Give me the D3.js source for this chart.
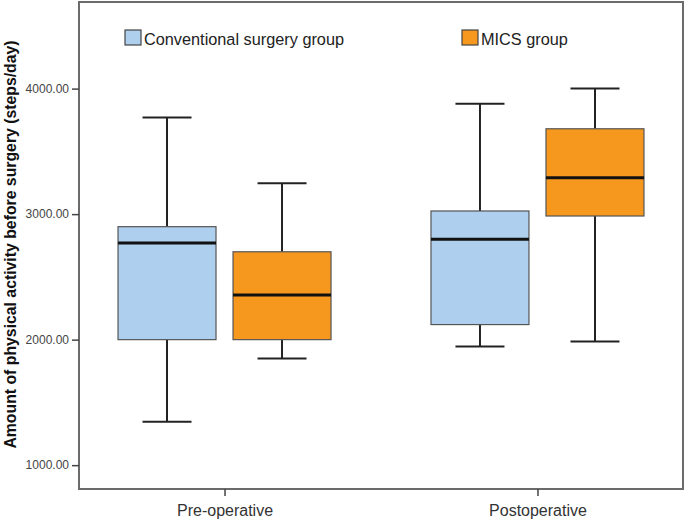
<!DOCTYPE html>
<html>
<head>
<meta charset="utf-8">
<script src="https://cdn.jsdelivr.net/npm/d3@7"></script>
<style>
  body { margin: 0; background: #fff; }
  svg { display: block; font-family: "Liberation Sans", Arial, sans-serif; }
</style>
</head>
<body>
<div id="chart"></div>
<script>
// Data (steps/day).
const categories = ["Pre-operative", "Postoperative"];
const groups = ["Conventional surgery group", "MICS group"];
const groupColors = ["#aed0ee", "#f7981e"];
// [min, q1, median, q3, max] per category, per group
const conventional = [[1345, 2000, 2770, 2900, 3770], [1945, 2120, 2800, 3025, 3880]];
const mics = [[1850, 2000, 2355, 2700, 3245], [1985, 2985, 3290, 3680, 4000]];
const yTicks = [1000, 2000, 3000, 4000];

const width = 685;
const height = 520;
const margin = {top: 2, right: 2, bottom: 31, left: 79};

const svg = d3.select("#chart")
    .append("svg")
    .attr("width", width)
    .attr("height", height);

// Axes scales.
const x = d3.scalePoint().domain(categories)
    .range([margin.left, width - margin.right]).padding(0.465);
const y = d3.scaleLinear().domain([810, 4690])
    .range([height - margin.bottom, margin.top]);
const inner = d3.scaleBand().domain(groups).range([-106.5, 106.5]).paddingInner(0.148);

const boxes = [];
categories.forEach((c, i) => {
    boxes.push({cat: c, group: groups[0], color: groupColors[0], s: conventional[i]});
    boxes.push({cat: c, group: groups[1], color: groupColors[1], s: mics[i]});
});

const g = svg.selectAll("g.box").data(boxes).enter().append("g").attr("class", "box")
    .attr("transform", d => `translate(${x(d.cat) + inner(d.group)},0)`);

const bw = inner.bandwidth();

// Whiskers
g.append("line").attr("x1", bw / 2).attr("x2", bw / 2)
    .attr("y1", d => y(d.s[4])).attr("y2", d => y(d.s[3]))
    .attr("stroke", "#222").attr("stroke-width", 2);
g.append("line").attr("x1", bw / 2).attr("x2", bw / 2)
    .attr("y1", d => y(d.s[1])).attr("y2", d => y(d.s[0]))
    .attr("stroke", "#222").attr("stroke-width", 2);
// Caps
[0, 4].forEach(k => {
    g.append("line").attr("x1", bw / 4).attr("x2", bw * 3 / 4)
        .attr("y1", d => y(d.s[k])).attr("y2", d => y(d.s[k]))
        .attr("stroke", "#222").attr("stroke-width", 2);
});

// Box
g.append("rect")
    .attr("x", 0).attr("width", bw)
    .attr("y", d => y(d.s[3]))
    .attr("height", d => y(d.s[1]) - y(d.s[3]))
    .attr("fill", d => d.color)
    .attr("stroke", "#555").attr("stroke-width", 1.2);

// Median
g.append("line").attr("x1", 0).attr("x2", bw)
    .attr("y1", d => y(d.s[2])).attr("y2", d => y(d.s[2]))
    .attr("stroke", "#111").attr("stroke-width", 3);

// Frame
svg.append("rect")
    .attr("x", margin.left).attr("y", margin.top)
    .attr("width", width - margin.left - margin.right)
    .attr("height", height - margin.top - margin.bottom)
    .attr("fill", "none").attr("stroke", "#6b6b6b").attr("stroke-width", 2);

// Y axis
const yAxis = svg.append("g")
    .attr("transform", `translate(${margin.left},0)`)
    .call(d3.axisLeft(y).tickValues(yTicks).tickSize(7).tickPadding(3).tickFormat(d3.format(".2f")));
yAxis.select(".domain").remove();
yAxis.selectAll(".tick line").attr("stroke", "#444").attr("stroke-width", 1.5);
yAxis.selectAll("text").attr("font-size", "12px").attr("fill", "#444")
    .attr("font-family", "'Liberation Sans', Arial, sans-serif");

// X axis
const xAxis = svg.append("g")
    .attr("transform", `translate(0,${height - margin.bottom})`)
    .call(d3.axisBottom(x).tickSize(7).tickPadding(9));
xAxis.select(".domain").remove();
xAxis.selectAll(".tick line").attr("stroke", "#444").attr("stroke-width", 1.5);
xAxis.selectAll("text").attr("font-size", "16px").attr("fill", "#333")
    .attr("font-family", "'Liberation Sans', Arial, sans-serif");

// Y title
svg.append("text")
    .attr("transform", `translate(16,${(margin.top + height - margin.bottom) / 2 - 1}) rotate(-90)`)
    .attr("text-anchor", "middle")
    .attr("font-size", "15.8px")
    .attr("font-weight", "bold")
    .attr("fill", "#111")
    .text("Amount of physical activity before surgery (steps/day)");

// Legend
const legendX = [125, 462];
groups.forEach((name, i) => {
    svg.append("rect")
        .attr("x", legendX[i]).attr("y", 30)
        .attr("width", 16).attr("height", 15)
        .attr("fill", groupColors[i])
        .attr("stroke", "#444").attr("stroke-width", 1.2);
    svg.append("text")
        .attr("x", legendX[i] + 19).attr("y", 45)
        .attr("font-size", "16.3px")
        .attr("fill", "#222")
        .text(name);
});
</script>
</body>
</html>
